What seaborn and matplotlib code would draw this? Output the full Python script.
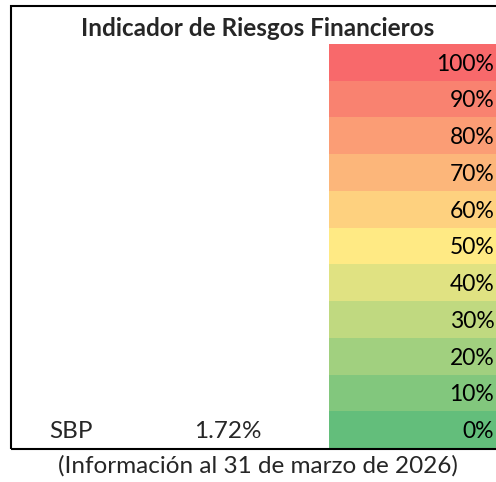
import numpy as np
import matplotlib
matplotlib.use("Agg")
import matplotlib.pyplot as plt
from matplotlib.colors import LinearSegmentedColormap
from matplotlib.patches import Rectangle
import seaborn as sns

# data
levels = [100, 90, 80, 70, 60, 50, 40, 30, 20, 10, 0]
level_labels = [f"{v}%" for v in levels]
entity = "SBP"
entity_value = 1.72
title = "Indicador de Riesgos Financieros"
caption = "(Información al 31 de marzo de 2026)"

sns.set_theme(style="white")
plt.rcParams["font.family"] = ["Lato", "DejaVu Sans"]

W, H = 496, 482
fig = plt.figure(figsize=(W / 100, H / 100), dpi=100)

# colour column (Excel red-yellow-green scale)
cmap = LinearSegmentedColormap.from_list("ryg", ["#63BE7B", "#FFEB84", "#F8696B"])
ax = fig.add_axes([329 / W, (H - 448) / H, (W - 329) / W, 404 / H])
sns.heatmap(np.array(levels).reshape(-1, 1), cmap=cmap, vmin=0, vmax=100,
            cbar=False, ax=ax, xticklabels=False, yticklabels=False)
for i, lab in enumerate(level_labels):
    ax.text(0.99, i + 0.55, lab, ha="right", va="center", fontsize=16.5, color="black")
ax.set_xlabel("")
ax.set_ylabel("")

# outer box
fig.patches.append(Rectangle((11 / W, (H - 449) / H), 2.0, 443 / H, transform=fig.transFigure,
                             fill=False, edgecolor="black", linewidth=1.5))

fig.text(258 / W, 1 - 29 / H, title, ha="center", va="center", fontsize=17.5, fontweight="bold")
fig.text(71 / W, 1 - 432 / H, entity, ha="center", va="center", fontsize=17.5)
fig.text(228 / W, 1 - 432 / H, f"{entity_value:.2f}%", ha="center", va="center", fontsize=17.5)
fig.text(258 / W, 1 - 466 / H, caption, ha="center", va="center", fontsize=17.5)

fig.savefig("out.png", dpi=100)
